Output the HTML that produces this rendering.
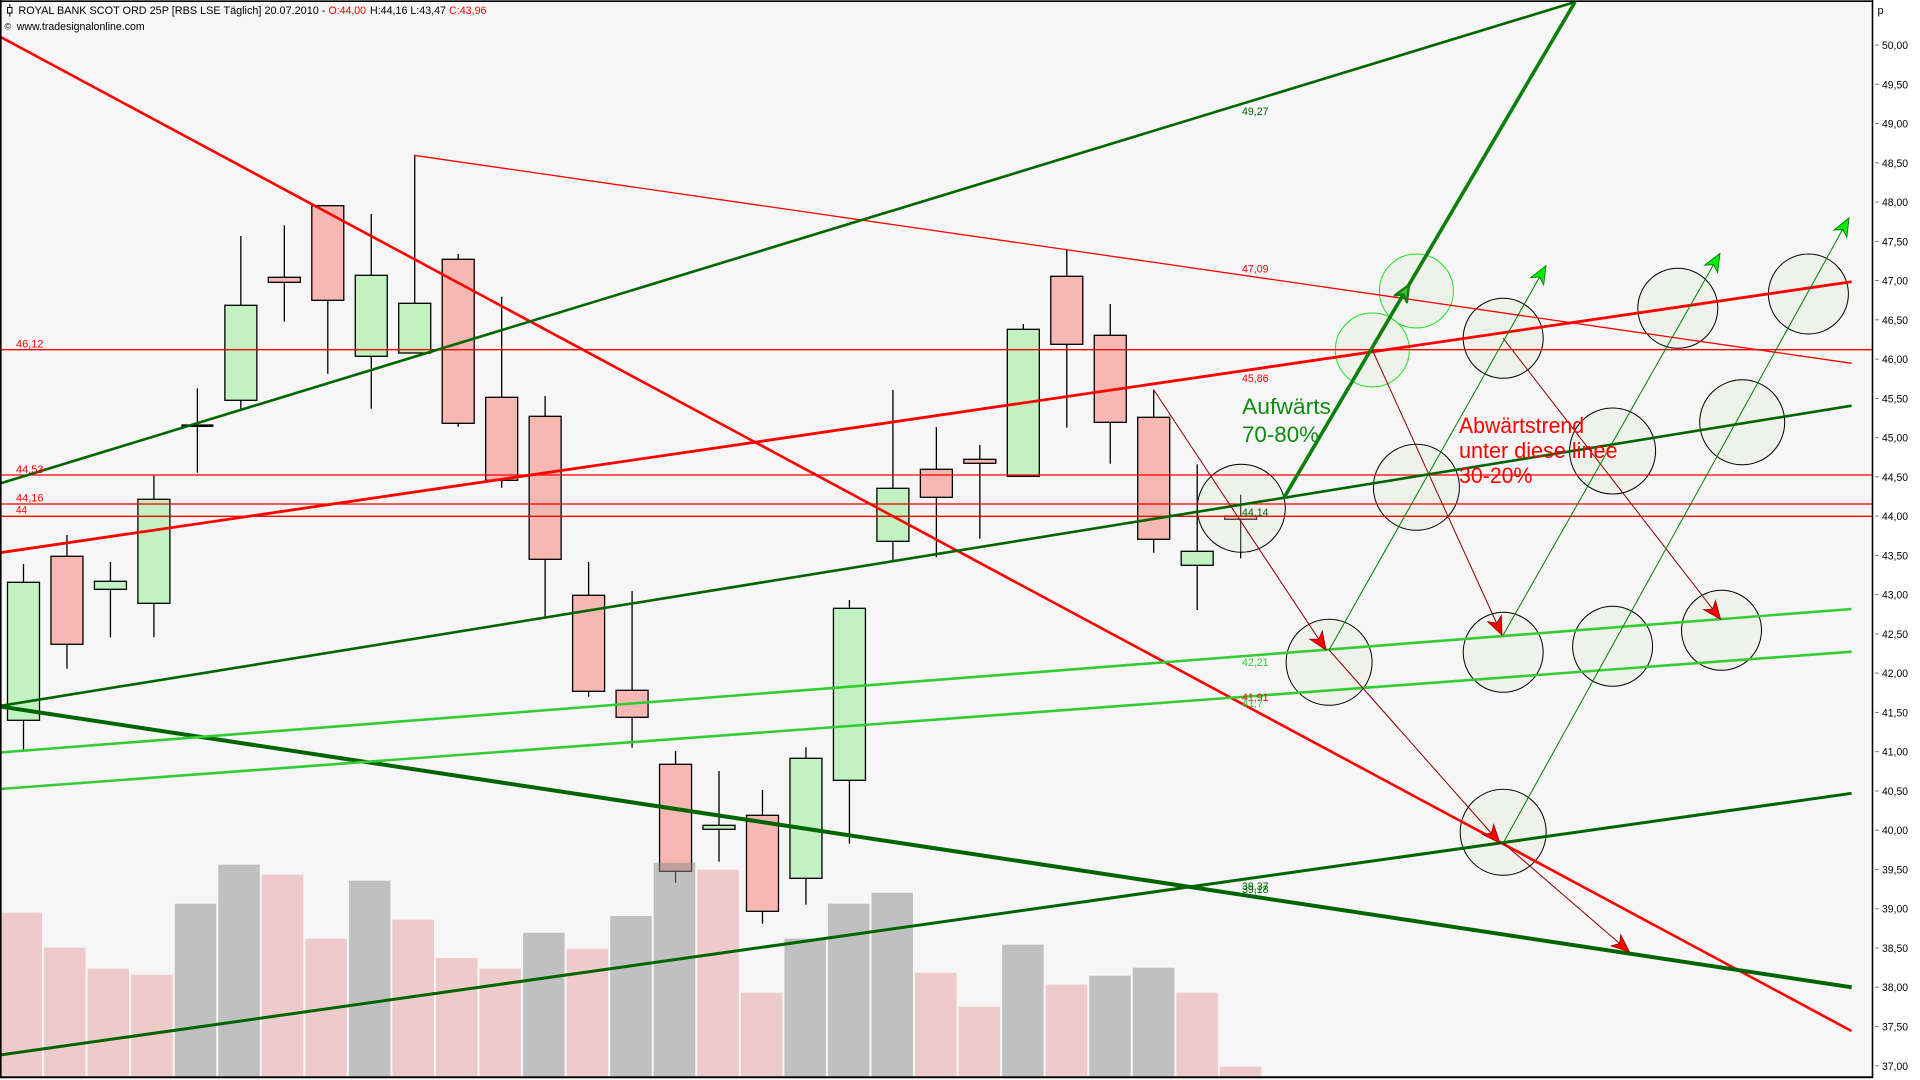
<!DOCTYPE html>
<html>
<head>
<meta charset="utf-8">
<style>
html,body{margin:0;padding:0;background:#ffffff;}
svg{display:block;}
text{font-family:"Liberation Sans",Arial,sans-serif;}
</style>
</head>
<body>
<svg width="1920" height="1080" viewBox="0 0 1920 1080" xmlns="http://www.w3.org/2000/svg">
<defs>
<marker id="ar" markerUnits="userSpaceOnUse" markerWidth="24" markerHeight="20" refX="20" refY="10" orient="auto" viewBox="0 0 24 20">
<path d="M20,10 L2,2.5 L7,10 L2,17.5 Z" fill="#ff0000" stroke="#8b0000" stroke-width="0.8"/>
</marker>
<marker id="ag" markerUnits="userSpaceOnUse" markerWidth="24" markerHeight="20" refX="20" refY="10" orient="auto" viewBox="0 0 24 20">
<path d="M20,10 L2,2.5 L7,10 L2,17.5 Z" fill="#00ee00" stroke="#007000" stroke-width="0.8"/>
</marker>
</defs>

<!-- backgrounds -->
<rect x="0" y="0" width="1920" height="1080" fill="#ffffff"/>
<rect x="0" y="0" width="1872" height="1077" fill="#f6f6f6"/>

<!-- candles -->
<g stroke="#000" stroke-width="1.3">
<line x1="23.5" y1="564" x2="23.5" y2="750.7"/><rect x="7.5" y="582.3" width="32" height="138" fill="#c2f2c2"/>
<line x1="66.97" y1="535" x2="66.97" y2="668.7"/><rect x="50.97" y="556.3" width="32" height="88" fill="#f7b8b3"/>
<line x1="110.44" y1="562" x2="110.44" y2="637.3"/><rect x="94.44" y="581.3" width="32" height="8" fill="#c2f2c2"/>
<line x1="153.91" y1="475.7" x2="153.91" y2="637.3"/><rect x="137.91" y="499.3" width="32" height="104" fill="#c2f2c2"/>
<line x1="197.38" y1="388.3" x2="197.38" y2="472.7"/><line x1="181.4" y1="425.7" x2="213.4" y2="425.7" stroke-width="2.6"/>
<line x1="240.85" y1="236" x2="240.85" y2="409"/><rect x="224.85" y="305.3" width="32" height="95" fill="#c2f2c2"/>
<line x1="284.32" y1="225.3" x2="284.32" y2="321.7"/><rect x="268.32" y="277.3" width="32" height="5" fill="#f7b8b3"/>
<line x1="327.79" y1="205.7" x2="327.79" y2="373.7"/><rect x="311.79" y="205.7" width="32" height="94.6" fill="#f7b8b3"/>
<line x1="371.26" y1="214" x2="371.26" y2="408.7"/><rect x="355.26" y="275.3" width="32" height="81" fill="#c2f2c2"/>
<line x1="414.73" y1="155.3" x2="414.73" y2="353"/><rect x="398.73" y="303.3" width="32" height="49.7" fill="#c2f2c2"/>
<line x1="458.2" y1="254" x2="458.2" y2="426.7"/><rect x="442.2" y="259.3" width="32" height="164" fill="#f7b8b3"/>
<line x1="501.67" y1="296.7" x2="501.67" y2="487.7"/><rect x="485.67" y="397.3" width="32" height="83" fill="#f7b8b3"/>
<line x1="545.14" y1="396" x2="545.14" y2="618.7"/><rect x="529.14" y="416.3" width="32" height="143" fill="#f7b8b3"/>
<line x1="588.61" y1="562" x2="588.61" y2="696.7"/><rect x="572.61" y="595.3" width="32" height="96" fill="#f7b8b3"/>
<line x1="632.08" y1="591" x2="632.08" y2="747.7"/><rect x="616.08" y="690.3" width="32" height="27" fill="#f7b8b3"/>
<line x1="675.55" y1="751" x2="675.55" y2="882.7"/><rect x="659.55" y="764.3" width="32" height="107" fill="#f7b8b3"/>
<line x1="719.02" y1="771" x2="719.02" y2="861.7"/><rect x="703.02" y="825.3" width="32" height="4" fill="#c2f2c2"/>
<line x1="762.49" y1="790" x2="762.49" y2="923.7"/><rect x="746.49" y="815.3" width="32" height="96" fill="#f7b8b3"/>
<line x1="805.96" y1="747.3" x2="805.96" y2="904.7"/><rect x="789.96" y="758.3" width="32" height="120" fill="#c2f2c2"/>
<line x1="849.43" y1="600" x2="849.43" y2="843.7"/><rect x="833.43" y="608.3" width="32" height="172" fill="#c2f2c2"/>
<line x1="892.9" y1="390" x2="892.9" y2="560.8"/><rect x="876.9" y="488.3" width="32" height="53" fill="#c2f2c2"/>
<line x1="936.37" y1="427" x2="936.37" y2="557.3"/><rect x="920.37" y="469.3" width="32" height="28" fill="#f7b8b3"/>
<line x1="979.84" y1="445" x2="979.84" y2="538.7"/><rect x="963.84" y="459.3" width="32" height="4" fill="#f7b8b3"/>
<line x1="1023.31" y1="324" x2="1023.31" y2="476.3"/><rect x="1007.31" y="329.3" width="32" height="147" fill="#c2f2c2"/>
<line x1="1066.78" y1="250" x2="1066.78" y2="427.7"/><rect x="1050.78" y="276.3" width="32" height="68" fill="#f7b8b3"/>
<line x1="1110.25" y1="304" x2="1110.25" y2="463.7"/><rect x="1094.25" y="335.3" width="32" height="87" fill="#f7b8b3"/>
<line x1="1153.72" y1="390" x2="1153.72" y2="552.7"/><rect x="1137.72" y="417.3" width="32" height="122" fill="#f7b8b3"/>
<line x1="1197.19" y1="464.3" x2="1197.19" y2="610"/><rect x="1181.19" y="551.3" width="32" height="14" fill="#c2f2c2"/>
<line x1="1240.66" y1="494.7" x2="1240.66" y2="558.3"/><rect x="1224.66" y="516" width="32" height="3.3" fill="#f7b8b3"/>
</g>

<!-- volume bars -->
<g>
<rect x="0.5" y="912.7" width="41.5" height="163.3" fill="rgba(229,157,159,0.5)"/>
<rect x="44.05" y="947.7" width="41.5" height="128.3" fill="rgba(229,157,159,0.5)"/>
<rect x="87.6" y="968.7" width="41.5" height="107.3" fill="rgba(229,157,159,0.5)"/>
<rect x="131.15" y="974.7" width="41.5" height="101.3" fill="rgba(229,157,159,0.5)"/>
<rect x="174.7" y="903.7" width="41.5" height="172.3" fill="rgba(138,138,138,0.5)"/>
<rect x="218.25" y="864.7" width="41.5" height="211.3" fill="rgba(138,138,138,0.5)"/>
<rect x="261.8" y="874.7" width="41.5" height="201.3" fill="rgba(229,157,159,0.5)"/>
<rect x="305.35" y="938.7" width="41.5" height="137.3" fill="rgba(229,157,159,0.5)"/>
<rect x="348.9" y="880.7" width="41.5" height="195.3" fill="rgba(138,138,138,0.5)"/>
<rect x="392.45" y="919.7" width="41.5" height="156.3" fill="rgba(229,157,159,0.5)"/>
<rect x="436" y="958" width="41.5" height="118" fill="rgba(229,157,159,0.5)"/>
<rect x="479.55" y="968.7" width="41.5" height="107.3" fill="rgba(229,157,159,0.5)"/>
<rect x="523.1" y="932.7" width="41.5" height="143.3" fill="rgba(138,138,138,0.5)"/>
<rect x="566.65" y="948.7" width="41.5" height="127.3" fill="rgba(229,157,159,0.5)"/>
<rect x="610.2" y="916" width="41.5" height="160" fill="rgba(138,138,138,0.5)"/>
<rect x="653.75" y="862.7" width="41.5" height="213.3" fill="rgba(138,138,138,0.5)"/>
<rect x="697.3" y="869.7" width="41.5" height="206.3" fill="rgba(229,157,159,0.5)"/>
<rect x="740.85" y="992.7" width="41.5" height="83.3" fill="rgba(229,157,159,0.5)"/>
<rect x="784.4" y="938.5" width="41.5" height="137.5" fill="rgba(138,138,138,0.5)"/>
<rect x="827.95" y="903.7" width="41.5" height="172.3" fill="rgba(138,138,138,0.5)"/>
<rect x="871.5" y="892.7" width="41.5" height="183.3" fill="rgba(138,138,138,0.5)"/>
<rect x="915.05" y="972.7" width="41.5" height="103.3" fill="rgba(229,157,159,0.5)"/>
<rect x="958.6" y="1006.7" width="41.5" height="69.3" fill="rgba(229,157,159,0.5)"/>
<rect x="1002.15" y="944.7" width="41.5" height="131.3" fill="rgba(138,138,138,0.5)"/>
<rect x="1045.7" y="984.7" width="41.5" height="91.3" fill="rgba(229,157,159,0.5)"/>
<rect x="1089.25" y="975.7" width="41.5" height="100.3" fill="rgba(138,138,138,0.5)"/>
<rect x="1132.8" y="967.7" width="41.5" height="108.3" fill="rgba(138,138,138,0.5)"/>
<rect x="1176.35" y="992.7" width="41.5" height="83.3" fill="rgba(229,157,159,0.5)"/>
<rect x="1219.9" y="1066.7" width="41.5" height="9.3" fill="rgba(229,157,159,0.5)"/>
</g>

<!-- circles -->
<g fill="rgba(223,233,209,0.3)" stroke="#000" stroke-width="1">
<circle cx="1503.2" cy="338.3" r="40"/>
<circle cx="1677.8" cy="308.3" r="40"/>
<circle cx="1808.4" cy="294" r="40"/>
<circle cx="1742.2" cy="422.3" r="42.5"/>
<circle cx="1612.6" cy="451" r="43"/>
<circle cx="1416.4" cy="487.3" r="43"/>
<circle cx="1241.3" cy="508.3" r="44"/>
<circle cx="1329.1" cy="662.3" r="43"/>
<circle cx="1503.2" cy="652.3" r="40"/>
<circle cx="1612.6" cy="646.3" r="40"/>
<circle cx="1721.5" cy="630.3" r="40"/>
<circle cx="1503.2" cy="832.3" r="43"/>
</g>
<g fill="rgba(223,233,209,0.3)" stroke="#22e022" stroke-width="1">
<circle cx="1416.4" cy="291" r="37"/>
<circle cx="1372.3" cy="350" r="37"/>
</g>

<!-- horizontal red lines -->
<g stroke="#ff0000" stroke-width="1.3">
<line x1="0" y1="349.7" x2="1872" y2="349.7"/>
<line x1="0" y1="475" x2="1872" y2="475"/>
<line x1="0" y1="504" x2="1872" y2="504"/>
<line x1="0" y1="516.3" x2="1872" y2="516.3"/>
</g>

<!-- trend lines -->
<line x1="0" y1="36.7" x2="1851.5" y2="1031" stroke="#ff0000" stroke-width="2.6"/>
<line x1="414" y1="155.3" x2="1851.6" y2="363.3" stroke="#ff0000" stroke-width="1.3"/>
<line x1="0" y1="552.7" x2="1851.6" y2="281.7" stroke="#ff0000" stroke-width="2.8"/>
<line x1="0" y1="483.5" x2="1575" y2="2" stroke="#006600" stroke-width="2.6"/>
<line x1="0" y1="706" x2="1851.6" y2="405.7" stroke="#006400" stroke-width="2.6"/>
<line x1="0" y1="706.5" x2="1851.7" y2="987.3" stroke="#006400" stroke-width="4"/>
<line x1="0" y1="1055" x2="1851.6" y2="793.3" stroke="#006400" stroke-width="3"/>
<line x1="0" y1="752.5" x2="1851.6" y2="609" stroke="#33cc33" stroke-width="2.6"/>
<line x1="0" y1="789" x2="1851.6" y2="651.7" stroke="#33cc33" stroke-width="2.6"/>
<line x1="1284" y1="497.7" x2="1575" y2="2" stroke="#0a800a" stroke-width="3.6"/>
<path d="M1409,285 L1406.9,302.3 L1403.4,294.5 L1394.9,295.3 Z" fill="#40c040" stroke="#0a800a" stroke-width="2.4" stroke-linejoin="round"/>

<!-- arrows -->
<g stroke="#8b0000" stroke-width="1" fill="none">
<line x1="1153.5" y1="389.5" x2="1326" y2="650" marker-end="url(#ar)"/>
<line x1="1372.3" y1="350" x2="1502" y2="635" marker-end="url(#ar)"/>
<line x1="1503.2" y1="338.3" x2="1720.6" y2="619.3" marker-end="url(#ar)"/>
<line x1="1329.1" y1="650" x2="1500" y2="843" marker-end="url(#ar)"/>
<line x1="1503.2" y1="843" x2="1629.5" y2="952" marker-end="url(#ar)"/>
</g>
<g stroke="#008000" stroke-width="1" fill="none">
<line x1="1329.1" y1="650" x2="1546" y2="265.7" marker-end="url(#ag)"/>
<line x1="1503.2" y1="635" x2="1720" y2="253.3" marker-end="url(#ag)"/>
<line x1="1503.2" y1="843" x2="1849" y2="218" marker-end="url(#ag)"/>
</g>

<!-- line labels -->
<g font-size="11">
<text x="1242" y="115" fill="#006400" textLength="26.5" lengthAdjust="spacingAndGlyphs">49,27</text>
<text x="1242" y="272.5" fill="#ff0000" textLength="26.5" lengthAdjust="spacingAndGlyphs">47,09</text>
<text x="1242" y="382" fill="#ff0000" textLength="26.5" lengthAdjust="spacingAndGlyphs">45,86</text>
<text x="1242" y="516" fill="#006400" textLength="26.5" lengthAdjust="spacingAndGlyphs">44,14</text>
<text x="1242" y="666" fill="#33cc33" textLength="26.5" lengthAdjust="spacingAndGlyphs">42,21</text>
<text x="1242" y="701" fill="#ff0000" textLength="26.5" lengthAdjust="spacingAndGlyphs">41,91</text>
<text x="1242" y="707" fill="#33cc33" textLength="21" lengthAdjust="spacingAndGlyphs">41,7</text>
<text x="1242" y="890" fill="#006400" textLength="26.5" lengthAdjust="spacingAndGlyphs">39,37</text>
<text x="1242" y="893" fill="#006400" textLength="26.5" lengthAdjust="spacingAndGlyphs">39,18</text>
<text x="16" y="347.5" fill="#ff0000" textLength="27.5" lengthAdjust="spacingAndGlyphs">46,12</text>
<text x="16" y="473" fill="#ff0000" textLength="27.5" lengthAdjust="spacingAndGlyphs">44,53</text>
<text x="16" y="501.5" fill="#ff0000" textLength="27.5" lengthAdjust="spacingAndGlyphs">44,16</text>
<text x="16" y="513.5" fill="#ff0000" textLength="11" lengthAdjust="spacingAndGlyphs">44</text>
</g>

<!-- annotations -->
<g font-size="22">
<text x="1242" y="414" fill="#128a12" textLength="89" lengthAdjust="spacingAndGlyphs">Aufwärts</text>
<text x="1242" y="442" fill="#128a12" textLength="77" lengthAdjust="spacingAndGlyphs">70-80%</text>
<text x="1459" y="433" fill="#ff0000" textLength="125" lengthAdjust="spacingAndGlyphs">Abwärtstrend</text>
<text x="1459" y="458" fill="#ff0000" textLength="158.5" lengthAdjust="spacingAndGlyphs">unter diese linee</text>
<text x="1459" y="483" fill="#ff0000" textLength="73.5" lengthAdjust="spacingAndGlyphs">30-20%</text>
</g>

<!-- frame -->
<line x1="0" y1="1.2" x2="1872" y2="1.2" stroke="#000" stroke-width="1.6"/>
<line x1="0.8" y1="0" x2="0.8" y2="1078" stroke="#000" stroke-width="1.6"/>
<line x1="0" y1="1077.3" x2="1873" y2="1077.3" stroke="#000" stroke-width="2"/>
<line x1="1872.5" y1="0" x2="1872.5" y2="1078" stroke="#000" stroke-width="1.6"/>

<!-- title -->
<g font-size="11">
<line x1="9.8" y1="4" x2="9.8" y2="16.5" stroke="#000" stroke-width="1"/>
<rect x="7.6" y="7.5" width="4.4" height="5.5" fill="#fff" stroke="#000" stroke-width="1"/>
<text x="18.4" y="14" fill="#000" textLength="307" lengthAdjust="spacingAndGlyphs">ROYAL BANK SCOT ORD 25P [RBS LSE Täglich] 20.07.2010 -</text>
<text x="328.5" y="14" fill="#ff0000" textLength="37.5" lengthAdjust="spacingAndGlyphs">O:44,00</text>
<text x="370" y="14" fill="#000" textLength="76" lengthAdjust="spacingAndGlyphs">H:44,16 L:43,47</text>
<text x="449" y="14" fill="#ff0000" textLength="37.5" lengthAdjust="spacingAndGlyphs">C:43,96</text>
<text x="4.5" y="29.5" fill="#000" font-size="9">©</text>
<text x="16.7" y="30" fill="#000" textLength="128" lengthAdjust="spacingAndGlyphs">www.tradesignalonline.com</text>
</g>

<!-- y axis -->
<text x="1877.5" y="14" font-size="11" fill="#000">p</text>
<g stroke="#808080" stroke-width="1">
<line x1="1875" y1="45" x2="1879" y2="45"/>
<line x1="1875" y1="84.26" x2="1879" y2="84.26"/>
<line x1="1875" y1="123.52" x2="1879" y2="123.52"/>
<line x1="1875" y1="162.78" x2="1879" y2="162.78"/>
<line x1="1875" y1="202.04" x2="1879" y2="202.04"/>
<line x1="1875" y1="241.3" x2="1879" y2="241.3"/>
<line x1="1875" y1="280.56" x2="1879" y2="280.56"/>
<line x1="1875" y1="319.82" x2="1879" y2="319.82"/>
<line x1="1875" y1="359.08" x2="1879" y2="359.08"/>
<line x1="1875" y1="398.34" x2="1879" y2="398.34"/>
<line x1="1875" y1="437.6" x2="1879" y2="437.6"/>
<line x1="1875" y1="476.86" x2="1879" y2="476.86"/>
<line x1="1875" y1="516.12" x2="1879" y2="516.12"/>
<line x1="1875" y1="555.38" x2="1879" y2="555.38"/>
<line x1="1875" y1="594.64" x2="1879" y2="594.64"/>
<line x1="1875" y1="633.9" x2="1879" y2="633.9"/>
<line x1="1875" y1="673.16" x2="1879" y2="673.16"/>
<line x1="1875" y1="712.42" x2="1879" y2="712.42"/>
<line x1="1875" y1="751.68" x2="1879" y2="751.68"/>
<line x1="1875" y1="790.94" x2="1879" y2="790.94"/>
<line x1="1875" y1="830.2" x2="1879" y2="830.2"/>
<line x1="1875" y1="869.46" x2="1879" y2="869.46"/>
<line x1="1875" y1="908.72" x2="1879" y2="908.72"/>
<line x1="1875" y1="947.98" x2="1879" y2="947.98"/>
<line x1="1875" y1="987.24" x2="1879" y2="987.24"/>
<line x1="1875" y1="1026.5" x2="1879" y2="1026.5"/>
<line x1="1875" y1="1065.76" x2="1879" y2="1065.76"/>
</g>
<g font-size="11" fill="#000">
<text x="1882" y="49" textLength="26" lengthAdjust="spacingAndGlyphs">50,00</text>
<text x="1882" y="88.26" textLength="26" lengthAdjust="spacingAndGlyphs">49,50</text>
<text x="1882" y="127.52" textLength="26" lengthAdjust="spacingAndGlyphs">49,00</text>
<text x="1882" y="166.78" textLength="26" lengthAdjust="spacingAndGlyphs">48,50</text>
<text x="1882" y="206.04" textLength="26" lengthAdjust="spacingAndGlyphs">48,00</text>
<text x="1882" y="245.3" textLength="26" lengthAdjust="spacingAndGlyphs">47,50</text>
<text x="1882" y="284.56" textLength="26" lengthAdjust="spacingAndGlyphs">47,00</text>
<text x="1882" y="323.82" textLength="26" lengthAdjust="spacingAndGlyphs">46,50</text>
<text x="1882" y="363.08" textLength="26" lengthAdjust="spacingAndGlyphs">46,00</text>
<text x="1882" y="402.34" textLength="26" lengthAdjust="spacingAndGlyphs">45,50</text>
<text x="1882" y="441.6" textLength="26" lengthAdjust="spacingAndGlyphs">45,00</text>
<text x="1882" y="480.86" textLength="26" lengthAdjust="spacingAndGlyphs">44,50</text>
<text x="1882" y="520.12" textLength="26" lengthAdjust="spacingAndGlyphs">44,00</text>
<text x="1882" y="559.38" textLength="26" lengthAdjust="spacingAndGlyphs">43,50</text>
<text x="1882" y="598.64" textLength="26" lengthAdjust="spacingAndGlyphs">43,00</text>
<text x="1882" y="637.9" textLength="26" lengthAdjust="spacingAndGlyphs">42,50</text>
<text x="1882" y="677.16" textLength="26" lengthAdjust="spacingAndGlyphs">42,00</text>
<text x="1882" y="716.42" textLength="26" lengthAdjust="spacingAndGlyphs">41,50</text>
<text x="1882" y="755.68" textLength="26" lengthAdjust="spacingAndGlyphs">41,00</text>
<text x="1882" y="794.94" textLength="26" lengthAdjust="spacingAndGlyphs">40,50</text>
<text x="1882" y="834.2" textLength="26" lengthAdjust="spacingAndGlyphs">40,00</text>
<text x="1882" y="873.46" textLength="26" lengthAdjust="spacingAndGlyphs">39,50</text>
<text x="1882" y="912.72" textLength="26" lengthAdjust="spacingAndGlyphs">39,00</text>
<text x="1882" y="951.98" textLength="26" lengthAdjust="spacingAndGlyphs">38,50</text>
<text x="1882" y="991.24" textLength="26" lengthAdjust="spacingAndGlyphs">38,00</text>
<text x="1882" y="1030.5" textLength="26" lengthAdjust="spacingAndGlyphs">37,50</text>
<text x="1882" y="1069.76" textLength="26" lengthAdjust="spacingAndGlyphs">37,00</text>
</g>
</svg>
</body>
</html>
